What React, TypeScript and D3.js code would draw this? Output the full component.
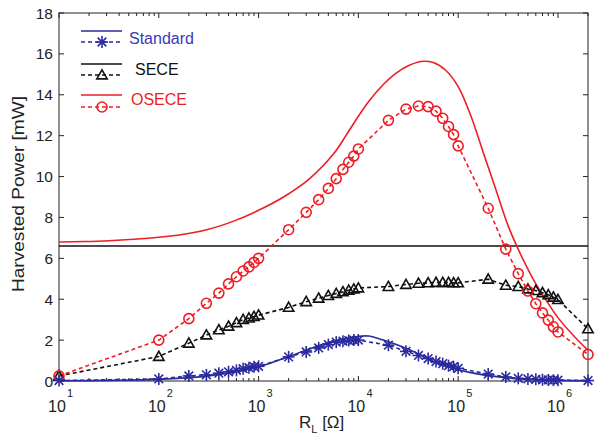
import React from "react";
import * as d3 from "d3";

// Load resistances (Ohm) of the measured points
const resistances = [
  10, 100, 200, 300, 400, 500, 600, 700, 800, 900,
  1000, 2000, 3000, 4000, 5000, 6000, 7000, 8000, 9000,
  10000, 20000, 30000, 40000, 50000, 60000, 70000, 80000, 90000,
  100000, 200000, 300000, 400000, 500000, 600000, 700000, 800000, 900000,
  1000000, 2000000,
];
const standardMeasured = [
  0.02, 0.1, 0.25, 0.3, 0.38, 0.45, 0.52, 0.6, 0.65, 0.7,
  0.72, 1.18, 1.42, 1.62, 1.78, 1.9, 1.95, 1.98, 2.0,
  2.0, 1.75, 1.45, 1.25, 1.1, 0.95, 0.85, 0.75, 0.7,
  0.62, 0.34, 0.2, 0.13, 0.1, 0.08, 0.06, 0.05, 0.04,
  0.04, 0.02,
];
const seceMeasured = [
  0.25, 1.2, 1.85, 2.25, 2.5, 2.68, 2.85, 3.0, 3.08, 3.15,
  3.22, 3.6, 3.88, 4.05, 4.18, 4.28, 4.36, 4.44, 4.5,
  4.55, 4.62, 4.72, 4.78, 4.8, 4.82, 4.82, 4.82, 4.8,
  4.8, 4.98, 4.68, 4.62, 4.5, 4.42, 4.32, 4.22, 4.1,
  3.98, 2.55,
];
const oseceMeasured = [
  0.25, 2.0, 3.05, 3.8, 4.3, 4.75, 5.1, 5.38, 5.58, 5.8,
  6.0, 7.4, 8.25, 8.87, 9.42, 9.9, 10.35, 10.7, 11.0,
  11.35, 12.75, 13.3, 13.45, 13.42, 13.2, 12.85, 12.45, 12.05,
  11.5, 8.45, 6.45, 5.25, 4.4, 3.78, 3.33, 2.98, 2.65,
  2.4, 1.3,
];

// Theoretical curves
const standardTheoryR = [
  10, 31.6, 100, 316, 1000, 1778, 3162, 5623, 10000, 12589, 17783, 31623,
  44668, 56234, 100000, 177828, 316228, 562341, 1000000, 2000000,
];
const standardTheory = [
  0.01, 0.03, 0.08, 0.25, 0.7, 1.1, 1.55, 1.95, 2.18, 2.2, 2.0, 1.55,
  1.2, 0.95, 0.55, 0.3, 0.15, 0.07, 0.03, 0.02,
];
const oseceTheoryR = [
  10, 17.8, 31.6, 56.2, 100, 178, 316, 562, 1000, 1778, 3162, 5623,
  7499, 10000, 13335, 17783, 23714, 31623, 42170, 56234, 74989,
  100000, 133352, 177828, 237137, 316228, 421697, 562341, 749894,
  1000000, 1412538, 2000000,
];
const oseceTheory = [
  6.8, 6.82, 6.86, 6.93, 7.03, 7.18, 7.42, 7.82, 8.35, 9.0, 9.85, 11.1,
  12.0, 12.95, 13.8, 14.5, 15.05, 15.42, 15.63, 15.58, 15.2,
  14.4, 13.0, 11.2, 9.4, 7.6, 6.2, 5.0, 4.0,
  3.1, 2.25, 1.5,
];
const seceTheoryR = [10, 2000000];
const seceTheory = [6.6, 6.6];

const yTicks = [0, 2, 4, 6, 8, 10, 12, 14, 16, 18];
const xDecades = [1, 2, 3, 4, 5, 6];

const W = 596;
const H = 438;
const left = 59;
const right = 588;
const top = 13;
const bottom = 381;

const BLUE = "#2a2a9e";
const BLUE_TEXT = "#3a3ab4";
const RED = "#ee1d23";
const BLACK = "#111";
const AXIS = "#222";
const FONT = "'Liberation Sans', Arial, Helvetica, sans-serif";

function Star({ x, y, color }: { x: number; y: number; color: string }) {
  const r = 6;
  const d = r * 0.72;
  return (
    <g stroke={color} strokeWidth={1.6}>
      <line x1={x - r} y1={y} x2={x + r} y2={y} />
      <line x1={x} y1={y - r} x2={x} y2={y + r} />
      <line x1={x - d} y1={y - d} x2={x + d} y2={y + d} />
      <line x1={x - d} y1={y + d} x2={x + d} y2={y - d} />
    </g>
  );
}

function Tri({ x, y }: { x: number; y: number }) {
  const s = 5.2;
  return (
    <path
      d={`M${x},${y - s} L${x + s},${y + s * 0.75} L${x - s},${y + s * 0.75} Z`}
      fill="none"
      stroke={BLACK}
      strokeWidth={1.6}
    />
  );
}

function Circ({ x, y }: { x: number; y: number }) {
  return <circle cx={x} cy={y} r={5} fill="none" stroke={RED} strokeWidth={1.6} />;
}

export default function App() {
  const x = d3.scaleLog().domain([10, 2000000]).range([left, right]);
  const y = d3.scaleLinear().domain([0, 18]).range([bottom, top]);

  const lineFor = (rs: number[], vs: number[], smooth: boolean) => {
    const gen = d3
      .line<number>()
      .x((_, i) => x(rs[i]))
      .y((v) => y(v));
    if (smooth) gen.curve(d3.curveCatmullRom.alpha(0.5));
    return gen(vs) || "";
  };

  const minorTicks: number[] = [];
  for (let e = 1; e <= 6; e++) {
    for (let m = 2; m <= 9; m++) {
      const v = m * Math.pow(10, e);
      if (v <= 2000000) minorTicks.push(v);
    }
  }

  return (
    <svg
      width={W}
      height={H}
      style={{ position: "absolute", left: 0, top: 0, background: "#fff" }}
      fontFamily={FONT}
    >
      <rect width={W} height={H} fill="#fff" />
      <defs>
        <clipPath id="plot">
          <rect x={left - 8} y={top} width={right - left + 16} height={bottom - top + 8} />
        </clipPath>
      </defs>

      {/* frame */}
      <rect
        x={left}
        y={top}
        width={right - left}
        height={bottom - top}
        fill="none"
        stroke={AXIS}
        strokeWidth={1}
      />

      {/* y ticks */}
      {yTicks.map((t) => (
        <g key={"y" + t}>
          <line x1={left} x2={left + 5} y1={y(t)} y2={y(t)} stroke={AXIS} />
          <line x1={right} x2={right - 5} y1={y(t)} y2={y(t)} stroke={AXIS} />
          <text x={53} y={y(t) + 5.5} textAnchor="end" fontSize={15.5} fill={AXIS}>
            {t}
          </text>
        </g>
      ))}

      {/* x ticks */}
      {xDecades.map((e) => {
        const v = Math.pow(10, e);
        const px = x(v);
        return (
          <g key={"x" + e}>
            <line x1={px} x2={px} y1={bottom} y2={bottom - 5} stroke={AXIS} />
            <line x1={px} x2={px} y1={top} y2={top + 5} stroke={AXIS} />
            <text x={px - 2} y={412} textAnchor="middle" fontSize={16} fill={AXIS}>
              10
            </text>
            <text x={px + 8} y={397} fontSize={11} fill={AXIS}>
              {e}
            </text>
          </g>
        );
      })}
      {minorTicks.map((v) => (
        <g key={"m" + v}>
          <line x1={x(v)} x2={x(v)} y1={bottom} y2={bottom - 3} stroke={AXIS} />
          <line x1={x(v)} x2={x(v)} y1={top} y2={top + 3} stroke={AXIS} />
        </g>
      ))}

      {/* axis labels */}
      <text x={299} y={428} fontSize={17} fill={AXIS}>
        R
        <tspan dy={5} fontSize={11}>
          L
        </tspan>
        <tspan dy={-5}> [Ω]</tspan>
      </text>
      <text
        transform={`translate(24,194) rotate(-90)`}
        textAnchor="middle"
        fontSize={16}
        textLength={196}
        lengthAdjust="spacingAndGlyphs"
        fill={AXIS}
      >
        Harvested Power [mW]
      </text>

      <g clipPath="url(#plot)">
        {/* theory lines */}
        <path d={lineFor(seceTheoryR, seceTheory, false)} fill="none" stroke={BLACK} strokeWidth={1.6} />
        <path d={lineFor(oseceTheoryR, oseceTheory, true)} fill="none" stroke={RED} strokeWidth={1.6} />
        <path d={lineFor(standardTheoryR, standardTheory, true)} fill="none" stroke={BLUE} strokeWidth={1.6} />

        {/* measured dashed lines */}
        <path
          d={lineFor(resistances, seceMeasured, false)}
          fill="none"
          stroke={BLACK}
          strokeWidth={1.6}
          strokeDasharray="4,3"
        />
        <path
          d={lineFor(resistances, oseceMeasured, false)}
          fill="none"
          stroke={RED}
          strokeWidth={1.6}
          strokeDasharray="4,3"
        />
        <path
          d={lineFor(resistances, standardMeasured, false)}
          fill="none"
          stroke={BLUE}
          strokeWidth={1.6}
          strokeDasharray="4,3"
        />

        {resistances.map((r, i) => (
          <Tri key={"t" + i} x={x(r)} y={y(seceMeasured[i])} />
        ))}
        {resistances.map((r, i) => (
          <Circ key={"c" + i} x={x(r)} y={y(oseceMeasured[i])} />
        ))}
        {resistances.map((r, i) => (
          <Star key={"s" + i} x={x(r)} y={y(standardMeasured[i])} color={BLUE} />
        ))}
      </g>

      {/* legend */}
      <g>
        <line x1={81} x2={122} y1={31} y2={31} stroke={BLUE} strokeWidth={1.6} />
        <line x1={81} x2={122} y1={42} y2={42} stroke={BLUE} strokeWidth={1.6} strokeDasharray="4,3" />
        <Star x={102} y={42} color={BLUE} />
        <text x={129} y={43.5} fontSize={16} fill={BLUE_TEXT}>
          Standard
        </text>

        <line x1={81} x2={122} y1={64} y2={64} stroke={BLACK} strokeWidth={1.6} />
        <line x1={81} x2={122} y1={75} y2={75} stroke={BLACK} strokeWidth={1.6} strokeDasharray="4,3" />
        <Tri x={102} y={75} />
        <text x={135} y={75} fontSize={16} fill={BLACK}>
          SECE
        </text>

        <line x1={81} x2={122} y1={95} y2={95} stroke={RED} strokeWidth={1.6} />
        <line x1={81} x2={122} y1={107} y2={107} stroke={RED} strokeWidth={1.6} strokeDasharray="4,3" />
        <Circ x={102} y={107} />
        <text x={131} y={105} fontSize={16} fill={RED}>
          OSECE
        </text>
      </g>
    </svg>
  );
}
